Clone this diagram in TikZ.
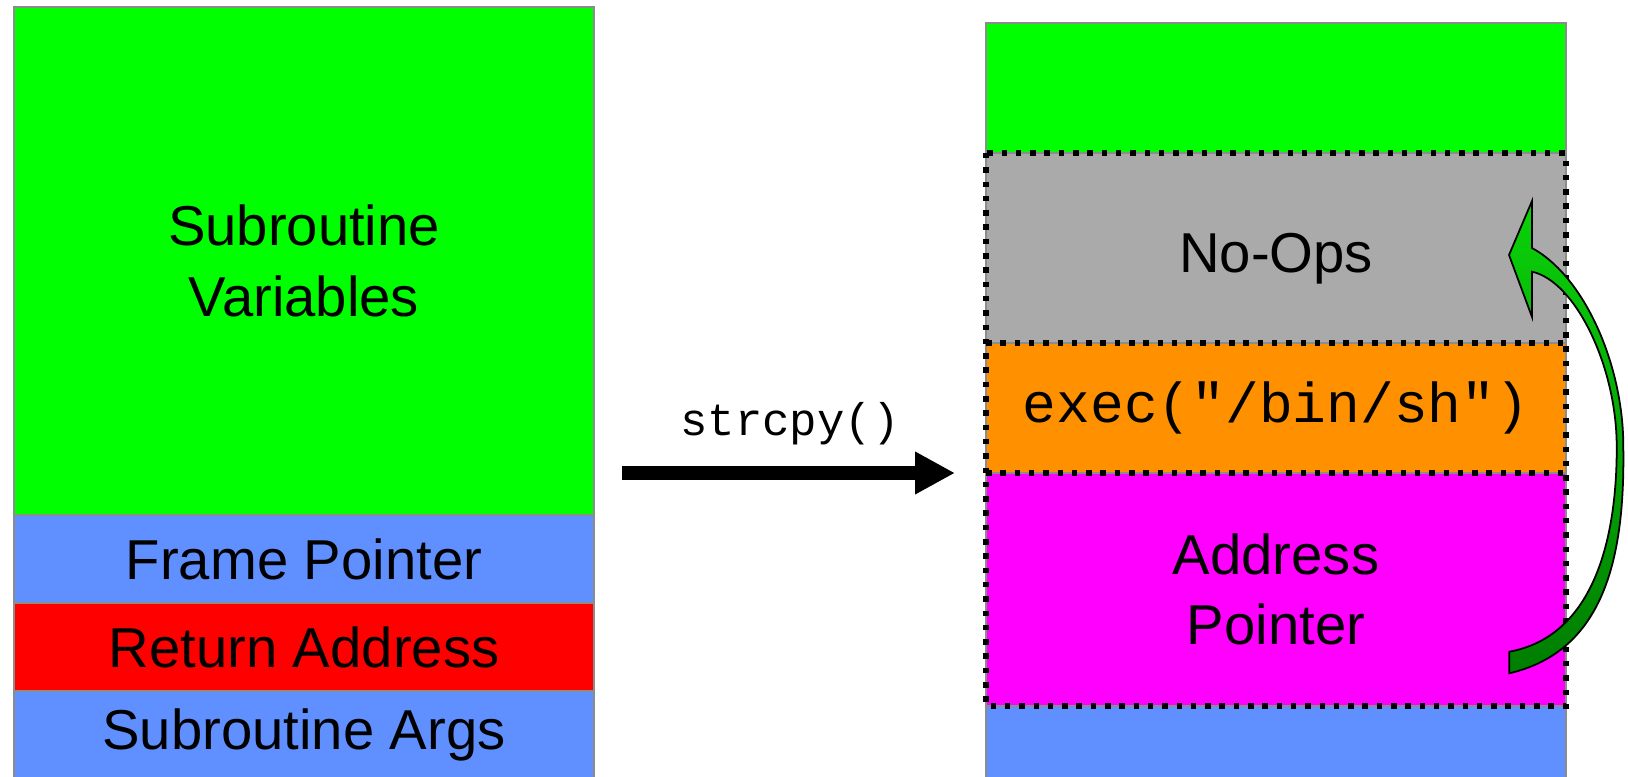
\documentclass[tikz,border=0pt]{standalone}
\usepackage{fontspec}
\setmainfont{Liberation Sans}
\newfontfamily\codefont{Liberation Mono}
\usetikzlibrary{positioning,arrows.meta}

\definecolor{stackgreen}{RGB}{0,255,0}
\definecolor{stackblue}{RGB}{96,144,255}
\definecolor{stackred}{RGB}{255,0,0}
\definecolor{nopgray}{RGB}{170,170,170}
\definecolor{shellorange}{RGB}{255,144,0}
\definecolor{ptrmagenta}{RGB}{255,0,255}
\definecolor{jumplight}{RGB}{10,210,10}
\definecolor{jumpdark}{RGB}{0,125,0}

\tikzset{
  cell/.style={draw=black!45, line width=0.5pt, minimum width=5.8cm,
    inner sep=0pt, outer sep=0pt, align=center, anchor=north,
    font=\fontsize{16}{20}\selectfont},
  dotline/.style={line width=0.055cm, dash pattern=on 0.055cm off 0.088cm},
  copyarrow/.style={line width=0.14cm, -{Triangle[length=0.4cm,width=0.4cm]}},
  jumparrow/.style={draw=black, line width=0.5pt, top color=jumplight,
    bottom color=jumpdark}
}

\begin{document}
\begin{tikzpicture}[node distance=0pt]
  \useasboundingbox (0,0) rectangle (16.28,7.76);
  \clip (0,0) rectangle (16.28,7.76);

  % normal stack frame
  \node[cell, fill=stackgreen, minimum height=5.08cm] (vars) at (3.04,7.69) {Subroutine\\Variables};
  \node[cell, fill=stackblue, minimum height=0.88cm, below=of vars] (fp) {Frame Pointer};
  \node[cell, fill=stackred, minimum height=0.88cm, below=of fp] (ra) {Return Address};
  \node[cell, fill=stackblue, minimum height=0.88cm, below=of ra] (args) {Subroutine Args};

  % frame after the overflow
  \node[cell, fill=stackgreen, minimum height=1.30cm] (top) at (12.76,7.53) {};
  \node[cell, fill=nopgray, minimum height=1.90cm, below=of top] (noops) {\raisebox{-0.11cm}[\height][\depth]{No-Ops}};
  \node[cell, fill=shellorange, minimum height=1.30cm, below=of noops,
    font=\codefont\fontsize{16}{20}\selectfont] (exec) {exec("/bin/sh")};
  \node[cell, fill=ptrmagenta, minimum height=2.33cm, below=of exec] (ap) {Address\\Pointer};
  \node[cell, fill=stackblue, minimum height=0.88cm, below=of ap] (rest) {};

  % overwritten region
  \draw[dotline] (noops.north west) rectangle (ap.south east);
  \draw[dotline] (noops.south west) -- (noops.south east);
  \draw[dotline] (exec.south west) -- (exec.south east);

  \draw[copyarrow, shorten <=0.28cm, shorten >=0.31cm] (vars.east |- exec.south) -- (exec.south west)
    node[midway, above=0.09cm, font=\codefont\fontsize{13}{16}\selectfont] (copy) {strcpy()};

  % jump back into the no-ops
  \draw[jumparrow] (15.09,5.21) -- (15.32,5.75) -- (15.32,5.28)
    .. controls (15.85,4.99) and (16.235,4.1) .. (16.233,3.293)
    .. controls (16.25,2.2) and (16.05,1.25) .. (15.093,1.027)
    -- (15.093,1.243)
    .. controls (15.95,1.40) and (16.17,2.4) .. (16.167,3.293)
    .. controls (16.167,4.1) and (15.75,4.95) .. (15.32,5.043)
    -- (15.32,4.59) -- cycle;
\end{tikzpicture}
\end{document}
